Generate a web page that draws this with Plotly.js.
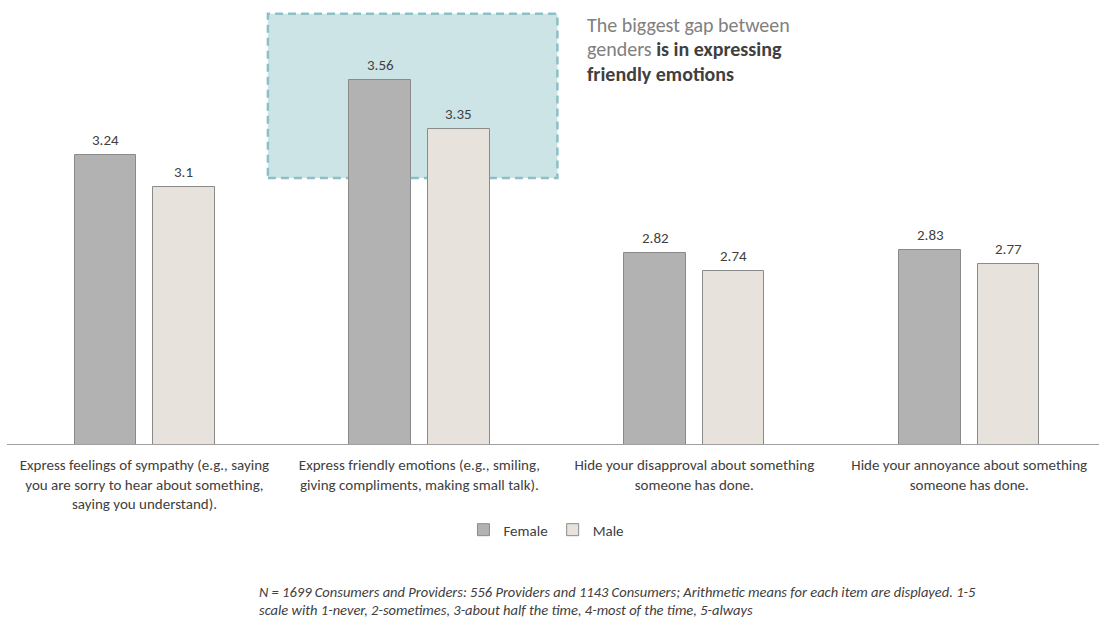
<!DOCTYPE html>
<html>
<head>
<meta charset="utf-8">
<script src="https://cdn.plot.ly/plotly-3.0.1.min.js"></script>
<style>html,body{margin:0;padding:0;background:#fff;}#chart{width:1099px;height:621px;}</style>
</head>
<body>
<div id="chart"></div>
<script>
// ---- data ----
const categories = [
  "Express feelings of sympathy (e.g., saying<br>you are sorry to hear about something,<br>saying you understand).",
  "Express friendly emotions (e.g., smiling,<br>giving compliments, making small talk).",
  "Hide your disapproval about something<br>someone has done.",
  "Hide your annoyance about something<br>someone has done."
];
const seriesNames = ["Female", "Male"];
const femaleValues = [3.24, 3.56, 2.82, 2.83];
const maleValues = [3.1, 3.35, 2.74, 2.77];
const calloutLines = [
  "<span style='color:#808080'>The biggest gap between</span>",
  "<span style='color:#808080'>genders</span> <b>is in expressing</b>",
  "<b>friendly emotions</b>"
];
const footnoteLines = [
  "N = 1699 Consumers and Providers: 556 Providers and 1143 Consumers; Arithmetic means for each item are displayed. 1-5",
  "scale with 1-never, 2-sometimes, 3-about half the time, 4-most of the time, 5-always"
];

// ---- styles ----
const FONT = "Carlito, Lato, 'Liberation Sans', sans-serif";
const TXT = "#404040";
const barW = 0.2245;
const offF = -0.2543, offM = 0.0306;

const traces = [
  {type: "bar", name: seriesNames[0], x: categories, y: femaleValues,
   width: barW, offset: offF,
   marker: {color: "#b2b2b2", line: {color: "#8a8a8a", width: 1}}, hoverinfo: "x+y"},
  {type: "bar", name: seriesNames[1], x: categories, y: maleValues,
   width: barW, offset: offM,
   marker: {color: "#e7e3dc", line: {color: "#8a8a8a", width: 1}}, hoverinfo: "x+y"}
];

const annotations = [];
femaleValues.forEach((v, i) => annotations.push({
  x: i + offF + barW / 2, y: v, xref: "x", yref: "y", text: String(v),
  showarrow: false, yanchor: "bottom", yshift: 4, font: {family: FONT, size: 15, color: TXT}
}));
maleValues.forEach((v, i) => annotations.push({
  x: i + offM + barW / 2, y: v, xref: "x", yref: "y", text: String(v),
  showarrow: false, yanchor: "bottom", yshift: 4, font: {family: FONT, size: 15, color: TXT}
}));
const calloutY = [0.9654, 0.909, 0.8525];
calloutLines.forEach((t, i) => annotations.push({
  xref: "paper", yref: "paper", x: 0.530, y: calloutY[i], xanchor: "left", yanchor: "middle", align: "left",
  showarrow: false, borderpad: 0, text: t, font: {family: FONT, size: 20, color: TXT}
}));
const footY = [-0.341, -0.3825];
footnoteLines.forEach((t, i) => annotations.push({
  xref: "paper", yref: "paper", x: 0.230, y: footY[i], xanchor: "left", yanchor: "middle", align: "left",
  showarrow: false, borderpad: 0, text: "<i>" + t + "</i>", font: {family: FONT, size: 14.5, color: TXT}
}));

const layout = {
  width: 1099, height: 621,
  margin: {l: 7, r: 0, t: 10, b: 177},
  paper_bgcolor: "#ffffff", plot_bgcolor: "#ffffff",
  font: {family: FONT, color: TXT, size: 15},
  showlegend: true,
  legend: {orientation: "h", x: 0.494, xanchor: "center", y: -0.198, yanchor: "middle",
           font: {family: FONT, size: 15, color: TXT}, itemwidth: 30},
  xaxis: {type: "category", range: [-0.5, 3.472], showline: true, linecolor: "#a0a0a0", linewidth: 1,
          ticks: "", showgrid: false, zeroline: false, ticklabelstandoff: 7,
          tickfont: {family: FONT, size: 15, color: TXT}, fixedrange: true},
  yaxis: {range: [2, 3.8595], visible: false, showgrid: false, zeroline: false, fixedrange: true},
  shapes: [{
    type: "rect", xref: "x", yref: "y", x0: 0.449, x1: 1.502, y0: 3.140, y1: 3.843,
    fillcolor: "#cde4e6", line: {color: "#8cc0c6", width: 2.5, dash: "8px,5px"}, layer: "below"
  }],
  annotations: annotations,
  bargap: 0
};

Plotly.newPlot("chart", traces, layout, {displayModeBar: false});
</script>
</body>
</html>
